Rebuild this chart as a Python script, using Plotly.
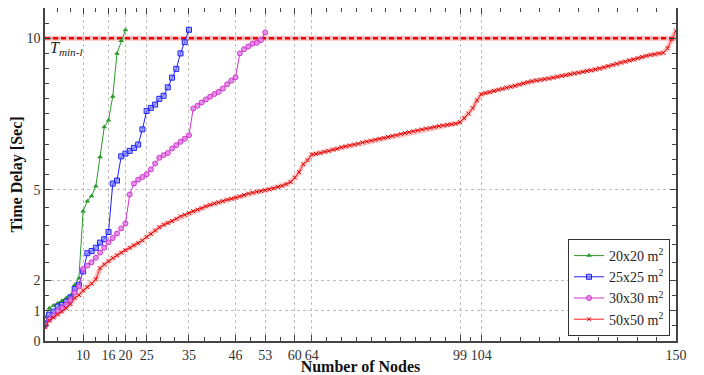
import plotly.graph_objects as go

# ---- data ----
nodes_20 = list(range(1, 21))
delay_20 = [0.78, 1.08, 1.17, 1.25, 1.33, 1.42, 1.50, 1.85, 2.07, 4.29,
            4.62, 4.79, 5.11, 6.08, 7.07, 7.29, 8.08, 9.50, 9.92, 10.27]

nodes_25 = list(range(1, 36))
delay_25 = [0.58, 0.87, 0.97, 1.14, 1.19, 1.30, 1.44, 1.72, 1.86, 2.30,
            2.90, 2.97, 3.08, 3.25, 3.36, 3.60, 5.20, 5.30, 6.10, 6.19,
            6.28, 6.38, 6.49, 6.99, 7.60, 7.70, 7.81, 8.00, 8.10, 8.38,
            8.70, 8.99, 9.50, 9.87, 10.28]

nodes_30 = list(range(1, 54))
delay_30 = [0.50, 0.72, 0.85, 1.00, 1.10, 1.20, 1.35, 1.60, 1.80, 2.38,
            2.49, 2.60, 2.75, 2.92, 3.08, 3.26, 3.40, 3.55, 3.72, 3.88,
            4.84, 5.20, 5.33, 5.42, 5.51, 5.67, 5.86, 6.05, 6.14, 6.21,
            6.36, 6.47, 6.58, 6.68, 6.80, 7.68, 7.77, 7.88, 7.98, 8.07,
            8.16, 8.23, 8.34, 8.48, 8.60, 8.71, 9.50, 9.64, 9.73, 9.82,
            9.85, 9.94, 10.19]

nodes_50 = list(range(1, 151))
delay_50 = [0.45, 0.68, 0.78, 0.88, 0.97, 1.08, 1.22, 1.42, 1.52, 1.67,
            1.78, 1.89, 2.04, 2.40, 2.53, 2.64, 2.74, 2.83, 2.92, 3.00,
            3.08, 3.16, 3.23, 3.32, 3.44, 3.54, 3.65, 3.76, 3.84, 3.90,
            3.96, 4.04, 4.12, 4.17, 4.23, 4.29, 4.34, 4.39, 4.45, 4.50,
            4.54, 4.58, 4.62, 4.67, 4.70, 4.73, 4.78, 4.82, 4.87, 4.90,
            4.93, 4.95, 4.98, 5.01, 5.04, 5.09, 5.13, 5.18, 5.25, 5.40,
            5.58, 5.84, 5.97, 6.16, 6.18, 6.21, 6.25, 6.28, 6.32, 6.35,
            6.40, 6.43, 6.46, 6.49, 6.52, 6.56, 6.59, 6.62, 6.65, 6.68,
            6.71, 6.74, 6.77, 6.80, 6.84, 6.87, 6.90, 6.93, 6.96, 6.99,
            7.02, 7.04, 7.07, 7.10, 7.12, 7.14, 7.16, 7.18, 7.23, 7.36,
            7.51, 7.69, 7.95, 8.15, 8.19, 8.22, 8.26, 8.30, 8.33, 8.37,
            8.40, 8.43, 8.47, 8.51, 8.55, 8.58, 8.61, 8.63, 8.65, 8.67,
            8.70, 8.73, 8.76, 8.78, 8.81, 8.84, 8.86, 8.89, 8.92, 8.94,
            8.97, 9.00, 9.04, 9.08, 9.12, 9.16, 9.20, 9.23, 9.27, 9.30,
            9.34, 9.38, 9.42, 9.45, 9.47, 9.50, 9.52, 9.67, 9.97, 10.25]

threshold_x = [1, 150]
threshold_y = [10, 10]

x_ticks = [10, 16, 20, 25, 35, 46, 53, 60, 64, 99, 104, 150]
y_ticks = [0, 1, 2, 5, 10]

series_names = ["20x20 m<sup>2</sup>", "25x25 m<sup>2</sup>",
                "30x30 m<sup>2</sup>", "50x50 m<sup>2</sup>"]

# ---- minor ticks (subdivisions between major ticks) ----
def subdivide(bounds, parts):
    out = []
    for (a, b), n in zip(zip(bounds[:-1], bounds[1:]), parts):
        for k in range(1, n):
            out.append(a + (b - a) * k / n)
    return out

x_bounds = [1] + x_ticks
x_parts = [3, 2, 2, 2, 3, 3, 2, 2, 1, 10, 2, 10]
x_minor = subdivide(x_bounds, x_parts)
y_minor = subdivide([0, 1, 2, 5, 10, 11], [2, 2, 5, 10, 2])

FONT = "Liberation Serif, Times New Roman, serif"

fig = go.Figure()

# threshold line
fig.add_trace(go.Scatter(x=threshold_x, y=threshold_y, mode="lines",
                         line=dict(color="rgba(255,80,80,0.35)", width=5),
                         showlegend=False, hoverinfo="skip"))
fig.add_trace(go.Scatter(x=threshold_x, y=threshold_y, mode="lines",
                         line=dict(color="#ee0000", width=2.5, dash="5px,3px"),
                         showlegend=False, hoverinfo="skip"))

# red halo
fig.add_trace(go.Scatter(x=nodes_50, y=delay_50, mode="lines",
                         line=dict(color="rgba(255,60,60,0.30)", width=5),
                         showlegend=False, hoverinfo="skip"))

fig.add_trace(go.Scatter(x=nodes_20, y=delay_20, mode="lines+markers",
                         name=series_names[0],
                         line=dict(color="#2a9a2a", width=1),
                         marker=dict(symbol="triangle-up", size=5, color="#2a9a2a")))
fig.add_trace(go.Scatter(x=nodes_25, y=delay_25, mode="lines+markers",
                         name=series_names[1],
                         line=dict(color="#2020ff", width=1),
                         marker=dict(symbol="square", size=5, color="rgba(120,120,255,0.6)",
                                     line=dict(color="#2020ff", width=1))))
fig.add_trace(go.Scatter(x=nodes_30, y=delay_30, mode="lines+markers",
                         name=series_names[2],
                         line=dict(color="#cc33cc", width=1),
                         marker=dict(symbol="circle", size=5, color="rgba(230,130,230,0.8)",
                                     line=dict(color="#cc33cc", width=1))))
fig.add_trace(go.Scatter(x=nodes_50, y=delay_50, mode="lines+markers",
                         name=series_names[3],
                         line=dict(color="#ff2020", width=1),
                         marker=dict(symbol="x-thin", size=4,
                                     line=dict(color="#e00000", width=1))))

fig.add_annotation(x=1.6, y=9.66, xref="x", yref="y", showarrow=False,
                   xanchor="left", yanchor="middle",
                   text="<i>T<sub>min-l</sub></i>",
                   font=dict(family=FONT, size=16, color="#222"))

axis_common = dict(
    showline=True, linecolor="#444", linewidth=1.5, mirror="allticks",
    ticks="inside", ticklen=6, tickcolor="#444", tickwidth=1,
    showgrid=True, gridcolor="#bdbdbd", griddash="dot", gridwidth=1,
    zeroline=False, tickfont=dict(family=FONT, size=14, color="#333"),
)

fig.update_xaxes(range=[1, 150], tickmode="array", tickvals=x_ticks,
                 title=dict(text="<b>Number of Nodes</b>", standoff=2,
                            font=dict(family=FONT, size=16, color="#111")),
                 minor=dict(tickmode="array", tickvals=x_minor, ticks="inside",
                            ticklen=4, tickcolor="#444", showgrid=False),
                 **axis_common)
fig.update_yaxes(range=[0, 11], tickmode="array", tickvals=y_ticks,
                 title=dict(text="<b>Time Delay [Sec]</b>", standoff=4,
                            font=dict(family=FONT, size=16, color="#111")),
                 minor=dict(tickmode="array", tickvals=y_minor, ticks="inside",
                            ticklen=4, tickcolor="#444", showgrid=False),
                 **axis_common)

# page body has an 8px default margin, so the figure is sized to fill the rest
fig.update_layout(
    width=696, height=367,
    margin=dict(l=37, r=28, t=0, b=34, autoexpand=False),
    plot_bgcolor="white", paper_bgcolor="white",
    font=dict(family=FONT, size=14, color="#222"),
    legend=dict(x=0.9905, y=0.015, xanchor="right", yanchor="bottom",
                bgcolor="white", bordercolor="#333", borderwidth=1,
                font=dict(family=FONT, size=14, color="#222"),
                itemwidth=30, tracegroupgap=0),
)

fig.write_html("out.html")
